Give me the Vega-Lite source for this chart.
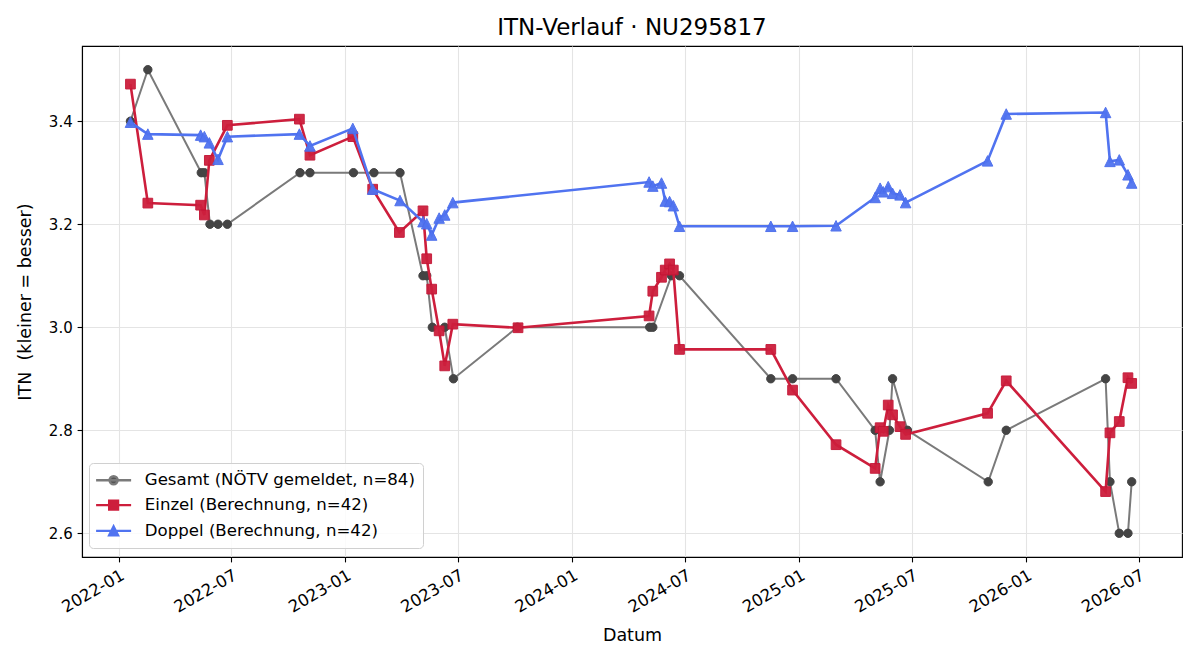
{
  "$schema": "https://vega.github.io/schema/vega-lite/v6.json",
  "width": 1100,
  "height": 511,
  "autosize": {"type": "none"},
  "padding": {"left": 82, "top": 46, "right": 18, "bottom": 103},
  "background": "white",
  "title": {
    "text": "ITN-Verlauf · NU295817",
    "font": "DejaVu Sans",
    "fontSize": 23,
    "fontWeight": "normal",
    "color": "black",
    "anchor": "middle",
    "frame": "group",
    "baseline": "alphabetic",
    "offset": -12
  },
  "config": {
    "view": {"stroke": "black", "strokeWidth": 1.1},
    "axis": {
      "labelFont": "DejaVu Sans",
      "labelFontSize": 15,
      "labelColor": "black",
      "titleFont": "DejaVu Sans",
      "titleFontSize": 17.5,
      "titleFontWeight": "normal",
      "titleColor": "black",
      "domainColor": "black",
      "domainWidth": 1.1,
      "tickColor": "black",
      "tickWidth": 1.1,
      "tickSize": 4.9,
      "labelPadding": 4.9,
      "gridColor": "#e4e4e4",
      "gridWidth": 1.1
    }
  },
  "data": {
    "values": [
      {"reihe": "Gesamt (NÖTV gemeldet, n=84)", "datum": "2022-01-20", "itn": 3.4},
      {"reihe": "Gesamt (NÖTV gemeldet, n=84)", "datum": "2022-02-17", "itn": 3.5},
      {"reihe": "Gesamt (NÖTV gemeldet, n=84)", "datum": "2022-05-14", "itn": 3.3},
      {"reihe": "Gesamt (NÖTV gemeldet, n=84)", "datum": "2022-05-19", "itn": 3.3},
      {"reihe": "Gesamt (NÖTV gemeldet, n=84)", "datum": "2022-05-28", "itn": 3.2},
      {"reihe": "Gesamt (NÖTV gemeldet, n=84)", "datum": "2022-06-10", "itn": 3.2},
      {"reihe": "Gesamt (NÖTV gemeldet, n=84)", "datum": "2022-06-25", "itn": 3.2},
      {"reihe": "Gesamt (NÖTV gemeldet, n=84)", "datum": "2022-10-20", "itn": 3.3},
      {"reihe": "Gesamt (NÖTV gemeldet, n=84)", "datum": "2022-11-05", "itn": 3.3},
      {"reihe": "Gesamt (NÖTV gemeldet, n=84)", "datum": "2023-01-14", "itn": 3.3},
      {"reihe": "Gesamt (NÖTV gemeldet, n=84)", "datum": "2023-02-16", "itn": 3.3},
      {"reihe": "Gesamt (NÖTV gemeldet, n=84)", "datum": "2023-03-30", "itn": 3.3},
      {"reihe": "Gesamt (NÖTV gemeldet, n=84)", "datum": "2023-05-06", "itn": 3.1},
      {"reihe": "Gesamt (NÖTV gemeldet, n=84)", "datum": "2023-05-12", "itn": 3.1},
      {"reihe": "Gesamt (NÖTV gemeldet, n=84)", "datum": "2023-05-21", "itn": 3.0},
      {"reihe": "Gesamt (NÖTV gemeldet, n=84)", "datum": "2023-06-10", "itn": 3.0},
      {"reihe": "Gesamt (NÖTV gemeldet, n=84)", "datum": "2023-06-24", "itn": 2.9},
      {"reihe": "Gesamt (NÖTV gemeldet, n=84)", "datum": "2023-10-05", "itn": 3.0},
      {"reihe": "Gesamt (NÖTV gemeldet, n=84)", "datum": "2024-05-05", "itn": 3.0},
      {"reihe": "Gesamt (NÖTV gemeldet, n=84)", "datum": "2024-05-10", "itn": 3.0},
      {"reihe": "Gesamt (NÖTV gemeldet, n=84)", "datum": "2024-06-09", "itn": 3.1},
      {"reihe": "Gesamt (NÖTV gemeldet, n=84)", "datum": "2024-06-22", "itn": 3.1},
      {"reihe": "Gesamt (NÖTV gemeldet, n=84)", "datum": "2024-11-16", "itn": 2.9},
      {"reihe": "Gesamt (NÖTV gemeldet, n=84)", "datum": "2024-12-21", "itn": 2.9},
      {"reihe": "Gesamt (NÖTV gemeldet, n=84)", "datum": "2025-03-01", "itn": 2.9},
      {"reihe": "Gesamt (NÖTV gemeldet, n=84)", "datum": "2025-05-03", "itn": 2.8},
      {"reihe": "Gesamt (NÖTV gemeldet, n=84)", "datum": "2025-05-11", "itn": 2.7},
      {"reihe": "Gesamt (NÖTV gemeldet, n=84)", "datum": "2025-05-26", "itn": 2.8},
      {"reihe": "Gesamt (NÖTV gemeldet, n=84)", "datum": "2025-05-31", "itn": 2.9},
      {"reihe": "Gesamt (NÖTV gemeldet, n=84)", "datum": "2025-06-24", "itn": 2.8},
      {"reihe": "Gesamt (NÖTV gemeldet, n=84)", "datum": "2025-11-01", "itn": 2.7},
      {"reihe": "Gesamt (NÖTV gemeldet, n=84)", "datum": "2025-11-30", "itn": 2.8},
      {"reihe": "Gesamt (NÖTV gemeldet, n=84)", "datum": "2026-05-09", "itn": 2.9},
      {"reihe": "Gesamt (NÖTV gemeldet, n=84)", "datum": "2026-05-16", "itn": 2.7},
      {"reihe": "Gesamt (NÖTV gemeldet, n=84)", "datum": "2026-05-31", "itn": 2.6},
      {"reihe": "Gesamt (NÖTV gemeldet, n=84)", "datum": "2026-06-14", "itn": 2.6},
      {"reihe": "Gesamt (NÖTV gemeldet, n=84)", "datum": "2026-06-20", "itn": 2.7},

      {"reihe": "Einzel (Berechnung, n=42)", "datum": "2022-01-20", "itn": 3.472},
      {"reihe": "Einzel (Berechnung, n=42)", "datum": "2022-02-17", "itn": 3.241},
      {"reihe": "Einzel (Berechnung, n=42)", "datum": "2022-05-13", "itn": 3.237},
      {"reihe": "Einzel (Berechnung, n=42)", "datum": "2022-05-19", "itn": 3.218},
      {"reihe": "Einzel (Berechnung, n=42)", "datum": "2022-05-27", "itn": 3.324},
      {"reihe": "Einzel (Berechnung, n=42)", "datum": "2022-06-25", "itn": 3.392},
      {"reihe": "Einzel (Berechnung, n=42)", "datum": "2022-10-19", "itn": 3.404},
      {"reihe": "Einzel (Berechnung, n=42)", "datum": "2022-11-05", "itn": 3.334},
      {"reihe": "Einzel (Berechnung, n=42)", "datum": "2023-01-13", "itn": 3.370},
      {"reihe": "Einzel (Berechnung, n=42)", "datum": "2023-02-14", "itn": 3.268},
      {"reihe": "Einzel (Berechnung, n=42)", "datum": "2023-03-29", "itn": 3.184},
      {"reihe": "Einzel (Berechnung, n=42)", "datum": "2023-05-06", "itn": 3.226},
      {"reihe": "Einzel (Berechnung, n=42)", "datum": "2023-05-12", "itn": 3.133},
      {"reihe": "Einzel (Berechnung, n=42)", "datum": "2023-05-20", "itn": 3.074},
      {"reihe": "Einzel (Berechnung, n=42)", "datum": "2023-06-01", "itn": 2.993},
      {"reihe": "Einzel (Berechnung, n=42)", "datum": "2023-06-10", "itn": 2.925},
      {"reihe": "Einzel (Berechnung, n=42)", "datum": "2023-06-23", "itn": 3.006},
      {"reihe": "Einzel (Berechnung, n=42)", "datum": "2023-10-06", "itn": 2.999},
      {"reihe": "Einzel (Berechnung, n=42)", "datum": "2024-05-04", "itn": 3.022},
      {"reihe": "Einzel (Berechnung, n=42)", "datum": "2024-05-10", "itn": 3.070},
      {"reihe": "Einzel (Berechnung, n=42)", "datum": "2024-05-24", "itn": 3.097},
      {"reihe": "Einzel (Berechnung, n=42)", "datum": "2024-05-30", "itn": 3.111},
      {"reihe": "Einzel (Berechnung, n=42)", "datum": "2024-06-06", "itn": 3.123},
      {"reihe": "Einzel (Berechnung, n=42)", "datum": "2024-06-12", "itn": 3.111},
      {"reihe": "Einzel (Berechnung, n=42)", "datum": "2024-06-22", "itn": 2.957},
      {"reihe": "Einzel (Berechnung, n=42)", "datum": "2024-11-16", "itn": 2.957},
      {"reihe": "Einzel (Berechnung, n=42)", "datum": "2024-12-21", "itn": 2.878},
      {"reihe": "Einzel (Berechnung, n=42)", "datum": "2025-03-01", "itn": 2.772},
      {"reihe": "Einzel (Berechnung, n=42)", "datum": "2025-05-03", "itn": 2.726},
      {"reihe": "Einzel (Berechnung, n=42)", "datum": "2025-05-11", "itn": 2.805},
      {"reihe": "Einzel (Berechnung, n=42)", "datum": "2025-05-16", "itn": 2.798},
      {"reihe": "Einzel (Berechnung, n=42)", "datum": "2025-05-24", "itn": 2.849},
      {"reihe": "Einzel (Berechnung, n=42)", "datum": "2025-05-31", "itn": 2.830},
      {"reihe": "Einzel (Berechnung, n=42)", "datum": "2025-06-12", "itn": 2.807},
      {"reihe": "Einzel (Berechnung, n=42)", "datum": "2025-06-21", "itn": 2.792},
      {"reihe": "Einzel (Berechnung, n=42)", "datum": "2025-10-31", "itn": 2.833},
      {"reihe": "Einzel (Berechnung, n=42)", "datum": "2025-11-30", "itn": 2.896},
      {"reihe": "Einzel (Berechnung, n=42)", "datum": "2026-05-09", "itn": 2.681},
      {"reihe": "Einzel (Berechnung, n=42)", "datum": "2026-05-16", "itn": 2.795},
      {"reihe": "Einzel (Berechnung, n=42)", "datum": "2026-05-31", "itn": 2.817},
      {"reihe": "Einzel (Berechnung, n=42)", "datum": "2026-06-14", "itn": 2.902},
      {"reihe": "Einzel (Berechnung, n=42)", "datum": "2026-06-20", "itn": 2.891},

      {"reihe": "Doppel (Berechnung, n=42)", "datum": "2022-01-20", "itn": 3.398},
      {"reihe": "Doppel (Berechnung, n=42)", "datum": "2022-02-17", "itn": 3.375},
      {"reihe": "Doppel (Berechnung, n=42)", "datum": "2022-05-13", "itn": 3.373},
      {"reihe": "Doppel (Berechnung, n=42)", "datum": "2022-05-19", "itn": 3.370},
      {"reihe": "Doppel (Berechnung, n=42)", "datum": "2022-05-27", "itn": 3.358},
      {"reihe": "Doppel (Berechnung, n=42)", "datum": "2022-06-10", "itn": 3.326},
      {"reihe": "Doppel (Berechnung, n=42)", "datum": "2022-06-25", "itn": 3.370},
      {"reihe": "Doppel (Berechnung, n=42)", "datum": "2022-10-19", "itn": 3.375},
      {"reihe": "Doppel (Berechnung, n=42)", "datum": "2022-11-05", "itn": 3.352},
      {"reihe": "Doppel (Berechnung, n=42)", "datum": "2023-01-13", "itn": 3.386},
      {"reihe": "Doppel (Berechnung, n=42)", "datum": "2023-02-14", "itn": 3.268},
      {"reihe": "Doppel (Berechnung, n=42)", "datum": "2023-03-30", "itn": 3.246},
      {"reihe": "Doppel (Berechnung, n=42)", "datum": "2023-05-06", "itn": 3.205},
      {"reihe": "Doppel (Berechnung, n=42)", "datum": "2023-05-12", "itn": 3.201},
      {"reihe": "Doppel (Berechnung, n=42)", "datum": "2023-05-20", "itn": 3.179},
      {"reihe": "Doppel (Berechnung, n=42)", "datum": "2023-06-01", "itn": 3.212},
      {"reihe": "Doppel (Berechnung, n=42)", "datum": "2023-06-10", "itn": 3.218},
      {"reihe": "Doppel (Berechnung, n=42)", "datum": "2023-06-23", "itn": 3.242},
      {"reihe": "Doppel (Berechnung, n=42)", "datum": "2024-05-04", "itn": 3.282},
      {"reihe": "Doppel (Berechnung, n=42)", "datum": "2024-05-10", "itn": 3.274},
      {"reihe": "Doppel (Berechnung, n=42)", "datum": "2024-05-24", "itn": 3.280},
      {"reihe": "Doppel (Berechnung, n=42)", "datum": "2024-05-30", "itn": 3.245},
      {"reihe": "Doppel (Berechnung, n=42)", "datum": "2024-06-06", "itn": 3.244},
      {"reihe": "Doppel (Berechnung, n=42)", "datum": "2024-06-12", "itn": 3.236},
      {"reihe": "Doppel (Berechnung, n=42)", "datum": "2024-06-22", "itn": 3.196},
      {"reihe": "Doppel (Berechnung, n=42)", "datum": "2024-11-16", "itn": 3.196},
      {"reihe": "Doppel (Berechnung, n=42)", "datum": "2024-12-21", "itn": 3.196},
      {"reihe": "Doppel (Berechnung, n=42)", "datum": "2025-03-01", "itn": 3.197},
      {"reihe": "Doppel (Berechnung, n=42)", "datum": "2025-05-03", "itn": 3.252},
      {"reihe": "Doppel (Berechnung, n=42)", "datum": "2025-05-11", "itn": 3.270},
      {"reihe": "Doppel (Berechnung, n=42)", "datum": "2025-05-16", "itn": 3.263},
      {"reihe": "Doppel (Berechnung, n=42)", "datum": "2025-05-24", "itn": 3.273},
      {"reihe": "Doppel (Berechnung, n=42)", "datum": "2025-05-31", "itn": 3.260},
      {"reihe": "Doppel (Berechnung, n=42)", "datum": "2025-06-12", "itn": 3.257},
      {"reihe": "Doppel (Berechnung, n=42)", "datum": "2025-06-21", "itn": 3.242},
      {"reihe": "Doppel (Berechnung, n=42)", "datum": "2025-10-31", "itn": 3.323},
      {"reihe": "Doppel (Berechnung, n=42)", "datum": "2025-11-30", "itn": 3.414},
      {"reihe": "Doppel (Berechnung, n=42)", "datum": "2026-05-09", "itn": 3.417},
      {"reihe": "Doppel (Berechnung, n=42)", "datum": "2026-05-16", "itn": 3.322},
      {"reihe": "Doppel (Berechnung, n=42)", "datum": "2026-05-31", "itn": 3.325},
      {"reihe": "Doppel (Berechnung, n=42)", "datum": "2026-06-14", "itn": 3.296},
      {"reihe": "Doppel (Berechnung, n=42)", "datum": "2026-06-20", "itn": 3.280}
    ]
  },
  "encoding": {
    "x": {
      "field": "datum",
      "type": "temporal",
      "title": "Datum",
      "scale": {
        "type": "utc",
        "domain": [
          {"year": 2021, "month": 11, "date": 3, "utc": true},
          {"year": 2026, "month": 9, "date": 9, "utc": true}
        ]
      },
      "axis": {
        "format": "%Y-%m",
        "values": [
          {"year": 2022, "month": 1, "date": 1, "utc": true},
          {"year": 2022, "month": 7, "date": 1, "utc": true},
          {"year": 2023, "month": 1, "date": 1, "utc": true},
          {"year": 2023, "month": 7, "date": 1, "utc": true},
          {"year": 2024, "month": 1, "date": 1, "utc": true},
          {"year": 2024, "month": 7, "date": 1, "utc": true},
          {"year": 2025, "month": 1, "date": 1, "utc": true},
          {"year": 2025, "month": 7, "date": 1, "utc": true},
          {"year": 2026, "month": 1, "date": 1, "utc": true},
          {"year": 2026, "month": 7, "date": 1, "utc": true}
        ],
        "labelAngle": -30,
        "labelAlign": "right",
        "labelBaseline": "top",
        "labelFontSize": 16.5,
        "labelOverlap": false,
        "labelFlush": false,
        "grid": true,
        "titleX": 550,
        "titleY": 83,
        "titleBaseline": "alphabetic"
      }
    },
    "y": {
      "field": "itn",
      "type": "quantitative",
      "title": "ITN\u00a0 (kleiner = besser)",
      "scale": {"domain": [2.554, 3.546], "zero": false, "nice": false},
      "axis": {
        "values": [2.6, 2.8, 3.0, 3.2, 3.4],
        "format": ".1f",
        "grid": true,
        "titleX": -57,
        "titleY": 255.5,
        "titleAngle": -90,
        "titleAlign": "center",
        "titleBaseline": "middle"
      }
    }
  },
  "layer": [
    {
      "transform": [{"filter": "datum.reihe === 'Gesamt (NÖTV gemeldet, n=84)'"}],
      "mark": {"type": "line", "strokeWidth": 2},
      "encoding": {
        "stroke": {
          "field": "reihe",
          "type": "nominal",
          "scale": {
            "domain": ["Gesamt (NÖTV gemeldet, n=84)", "Einzel (Berechnung, n=42)", "Doppel (Berechnung, n=42)"],
            "range": ["#7a7a7a", "#cd1e3c", "#5073f0"]
          }
        }
      }
    },
    {
      "transform": [{"filter": "datum.reihe === 'Gesamt (NÖTV gemeldet, n=84)'"}],
      "mark": {"type": "point", "shape": "circle", "filled": true, "fill": "#444444", "stroke": "#444444", "strokeWidth": 1, "size": 70, "opacity": 1}
    },
    {
      "transform": [{"filter": "datum.reihe === 'Einzel (Berechnung, n=42)'"}],
      "mark": {"type": "line", "strokeWidth": 2.6},
      "encoding": {"stroke": {"field": "reihe", "type": "nominal"}}
    },
    {
      "transform": [{"filter": "datum.reihe === 'Einzel (Berechnung, n=42)'"}],
      "mark": {"type": "point", "shape": "square", "filled": true, "fill": "#cd1e3c", "stroke": "#c41535", "strokeWidth": 1, "size": 94, "opacity": 0.95}
    },
    {
      "transform": [{"filter": "datum.reihe === 'Doppel (Berechnung, n=42)'"}],
      "mark": {"type": "line", "strokeWidth": 2.6},
      "encoding": {"stroke": {"field": "reihe", "type": "nominal"}}
    },
    {
      "transform": [{"filter": "datum.reihe === 'Doppel (Berechnung, n=42)'"}],
      "mark": {"type": "point", "shape": "M0,-1L1,1L-1,1Z", "filled": true, "fill": "#5073f0", "stroke": "#4a6cec", "strokeWidth": 1, "size": 110, "opacity": 0.95}
    },
    {
      "transform": [{"filter": "false"}],
      "mark": {"type": "point", "filled": true, "strokeWidth": 2.4, "opacity": 1},
      "encoding": {
        "shape": {
          "field": "reihe",
          "type": "nominal",
          "scale": {
            "domain": ["Gesamt (NÖTV gemeldet, n=84)", "Einzel (Berechnung, n=42)", "Doppel (Berechnung, n=42)"],
            "range": [
              "M-1.2,0L2.92,0M1.34,0A0.48,0.48,0,1,1,0.38,0A0.48,0.48,0,1,1,1.34,0Z",
              "M-1.2,0L2.92,0M0.34,-0.52L1.38,-0.52L1.38,0.52L0.34,0.52Z",
              "M-1.2,0L2.92,0M0.86,-0.52L1.38,0.52L0.34,0.52Z"
            ]
          },
          "legend": {
            "title": null,
            "orient": "none",
            "legendX": 7,
            "legendY": 417,
            "padding": 7.3,
            "rowPadding": 5.8,
            "labelFont": "DejaVu Sans",
            "labelFontSize": 16.6,
            "labelColor": "black",
            "labelLimit": 400,
            "labelOffset": 28.5,
            "symbolSize": 289,
            "symbolStrokeWidth": 2.4,
            "symbolOpacity": 1,
            "fillColor": "rgba(255,255,255,0.85)",
            "strokeColor": "#d0d0d0",
            "cornerRadius": 4
          }
        },
        "fill": {
          "field": "reihe",
          "type": "nominal",
          "scale": {
            "domain": ["Gesamt (NÖTV gemeldet, n=84)", "Einzel (Berechnung, n=42)", "Doppel (Berechnung, n=42)"],
            "range": ["#555555", "#cd1e3c", "#5073f0"]
          }
        },
        "stroke": {"field": "reihe", "type": "nominal"}
      }
    }
  ]
}
